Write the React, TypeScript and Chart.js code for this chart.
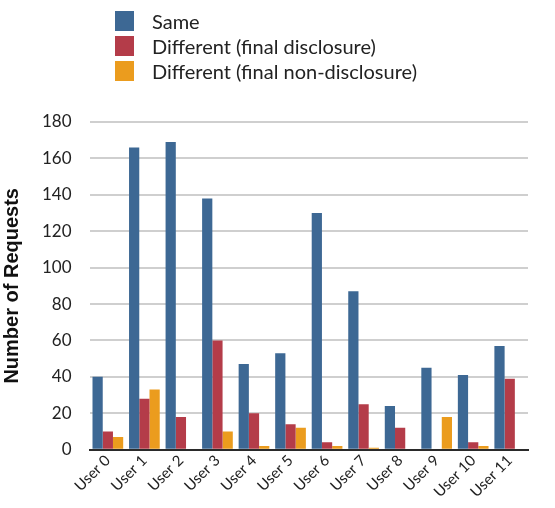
import React, { useEffect, useRef } from "react";
import { Chart, registerables } from "chart.js";

Chart.register(...registerables);

const categories = ["User 0", "User 1", "User 2", "User 3", "User 4", "User 5", "User 6", "User 7", "User 8", "User 9", "User 10", "User 11"];
const sameValues = [40, 166, 169, 138, 47, 53, 130, 87, 24, 45, 41, 57];
const discValues = [10, 28, 18, 60, 20, 14, 4, 25, 12, 0, 4, 39];
const nonDiscValues = [7, 33, 0, 10, 2, 12, 2, 1, 0, 18, 2, 0];
const seriesNames = ["Same", "Different (final disclosure)", "Different (final non-disclosure)"];
const seriesColors = ["#3d6894", "#b43c49", "#eb9c1e"];
const yTicks = [0, 20, 40, 60, 80, 100, 120, 140, 160, 180];

const FONT = "Lato, 'Open Sans', sans-serif";

export default function App() {
  const ref = useRef<HTMLCanvasElement | null>(null);
  useEffect(() => {
    document.body.style.margin = "0";
    const ctx = ref.current!;
    const data = [sameValues, discValues, nonDiscValues];
    const chart = new Chart(ctx, {
      type: "bar",
      data: {
        labels: categories,
        datasets: seriesNames.map((name, i) => ({
          label: name,
          data: data[i],
          backgroundColor: seriesColors[i],
          borderWidth: 0,
          categoryPercentage: 0.84,
          barPercentage: 1.0,
        })),
      },
      options: {
        animation: false,
        responsive: false,
        maintainAspectRatio: false,
        layout: { padding: { top: 122, right: 27, bottom: 5, left: 0 } },
        plugins: { legend: { display: false }, tooltip: { enabled: false } },
        scales: {
          x: {
            grid: { display: false, drawTicks: false },
            border: { display: true, color: "#2a2a2a", width: 2 },
            ticks: {
              color: "#222",
              font: { family: FONT, size: 15 },
              minRotation: 45,
              maxRotation: 45,
              padding: 2,
              autoSkip: false,
            },
          },
          y: {
            min: 0,
            max: 180,
            afterBuildTicks: (axis: any) => {
              axis.ticks = yTicks.map((v) => ({ value: v }));
            },
            grid: { color: "#cfcfcf", lineWidth: 2, drawTicks: false },
            border: { display: false },
            ticks: {
              color: "#222",
              font: { family: FONT, size: 17 },
              padding: 18,
            },
            title: {
              display: true,
              text: "Number of Requests",
              color: "#111",
              font: { family: "'Liberation Sans', Arial, sans-serif", size: 20, weight: "bold" },
              padding: { top: 0, bottom: 0 },
            },
          },
        },
      },
    });
    return () => chart.destroy();
  }, []);

  return (
    <div style={{ position: "relative", width: 555, height: 508 }}>
      <canvas ref={ref} width={555} height={508} style={{ display: "block" }} />
      <div style={{ position: "absolute", left: 115, top: 8, fontFamily: FONT, fontSize: 20, color: "#222" }}>
        {seriesNames.map((n, i) => (
          <div key={n} style={{ display: "flex", alignItems: "center", height: 25 }}>
            <span style={{ display: "inline-block", width: 19, height: 20, background: seriesColors[i], marginRight: 18 }} />
            <span>{n}</span>
          </div>
        ))}
      </div>
    </div>
  );
}
